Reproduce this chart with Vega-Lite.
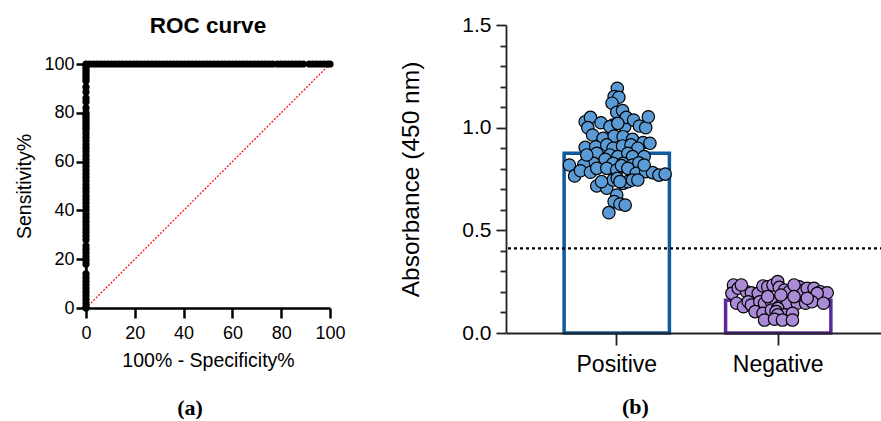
{
  "$schema": "https://vega.github.io/schema/vega-lite/v6.json",
  "padding": {"left": 14, "top": 14, "right": 0, "bottom": 0},
  "spacing": 52,
  "config": {
    "font": "Liberation Sans",
    "view": {"stroke": null},
    "axis": {"grid": false, "labelColor": "#000", "titleColor": "#000", "titleFontWeight": "normal", "domainColor": "#000", "tickColor": "#000"},
    "title": {"color": "#000"}
  },
  "datasets": {
    "head": [{"t": "ROC curve"}],
    "diag": [{"x": 0, "y": 0}, {"x": 100, "y": 100}],
    "roc": [
      {"x":0,"y":0},{"x":0,"y":0.5},{"x":0,"y":2},{"x":0,"y":3.5},{"x":0,"y":5},{"x":0,"y":6.5},{"x":0,"y":8},{"x":0,"y":9.5},{"x":0,"y":11},{"x":0,"y":12.5},{"x":0,"y":14},
      {"x":0,"y":18},{"x":0,"y":19.5},{"x":0,"y":21},{"x":0,"y":22.5},{"x":0,"y":24},{"x":0,"y":25.5},
      {"x":0,"y":28},{"x":0,"y":29.5},{"x":0,"y":31},{"x":0,"y":32.5},{"x":0,"y":34},{"x":0,"y":35.5},{"x":0,"y":37},{"x":0,"y":38.5},{"x":0,"y":40},{"x":0,"y":41.5},{"x":0,"y":43},{"x":0,"y":44.5},{"x":0,"y":46},{"x":0,"y":47.5},{"x":0,"y":49},{"x":0,"y":50.5},{"x":0,"y":52},{"x":0,"y":53.5},{"x":0,"y":55},{"x":0,"y":56.5},{"x":0,"y":58},{"x":0,"y":59.5},{"x":0,"y":61},{"x":0,"y":62.5},{"x":0,"y":64},{"x":0,"y":65.5},{"x":0,"y":67},{"x":0,"y":68.5},{"x":0,"y":70},{"x":0,"y":71.5},{"x":0,"y":73},{"x":0,"y":74},{"x":0,"y":75},{"x":0,"y":76},{"x":0,"y":77},{"x":0,"y":78},{"x":0,"y":79},{"x":0,"y":80},
      {"x":0,"y":82},{"x":0,"y":84.5},{"x":0,"y":86},{"x":0,"y":88.5},{"x":0,"y":90.5},{"x":0,"y":93},{"x":0,"y":94},{"x":0,"y":95},{"x":0,"y":96},{"x":0,"y":97},{"x":0,"y":98},{"x":0,"y":99},{"x":0,"y":100},
      {"x":1.5,"y":100},{"x":3,"y":100},{"x":4.5,"y":100},{"x":6,"y":100},{"x":7.5,"y":100},{"x":9,"y":100},{"x":10.5,"y":100},{"x":12,"y":100},{"x":13.5,"y":100},{"x":15,"y":100},{"x":16.5,"y":100},{"x":18,"y":100},{"x":19.5,"y":100},{"x":21,"y":100},{"x":22.5,"y":100},{"x":24,"y":100},{"x":25.5,"y":100},{"x":27,"y":100},{"x":28.5,"y":100},{"x":30,"y":100},{"x":31.5,"y":100},{"x":33,"y":100},{"x":34.5,"y":100},{"x":36,"y":100},{"x":37.5,"y":100},{"x":39,"y":100},{"x":40.5,"y":100},{"x":42,"y":100},{"x":43.5,"y":100},{"x":45,"y":100},{"x":46.5,"y":100},{"x":48,"y":100},{"x":49.5,"y":100},{"x":51,"y":100},{"x":52.5,"y":100},{"x":54,"y":100},{"x":55.5,"y":100},{"x":57,"y":100},{"x":58.5,"y":100},{"x":60,"y":100},{"x":61.5,"y":100},{"x":63,"y":100},{"x":64.5,"y":100},{"x":66,"y":100},{"x":67.5,"y":100},{"x":69,"y":100},{"x":70.5,"y":100},{"x":72,"y":100},{"x":73.5,"y":100},{"x":75,"y":100},{"x":76.5,"y":100},
      {"x":78.5,"y":100},{"x":80,"y":100},{"x":81.5,"y":100},{"x":83,"y":100},{"x":84.5,"y":100},{"x":86,"y":100},{"x":87.5,"y":100},{"x":89,"y":100},
      {"x":91.5,"y":100},{"x":93,"y":100},{"x":94.5,"y":100},{"x":96,"y":100},{"x":97.5,"y":100},{"x":99,"y":100},{"x":100,"y":100}
    ],
    "bars": [{"group": "Positive", "mean": 0.875}, {"group": "Negative", "mean": 0.16}],
    "cut": [{"cut": 0.412}],
    "abs": [
      {"group":"Positive","v":1.192,"j":0.01},{"group":"Positive","v":1.151,"j":-0.05},{"group":"Positive","v":1.148,"j":0.04},{"group":"Positive","v":1.119,"j":-0.09},{"group":"Positive","v":1.075,"j":0.0},{"group":"Positive","v":1.083,"j":0.11},
      {"group":"Positive","v":1.029,"j":-0.6},{"group":"Positive","v":1.05,"j":-0.5},{"group":"Positive","v":1.024,"j":-0.3},{"group":"Positive","v":1.013,"j":-0.07},{"group":"Positive","v":1.005,"j":0.15},{"group":"Positive","v":1.05,"j":0.18},{"group":"Positive","v":1.037,"j":0.32},{"group":"Positive","v":1.008,"j":0.43},{"group":"Positive","v":1.0,"j":0.55},{"group":"Positive","v":1.053,"j":0.6},{"group":"Positive","v":1.0,"j":-0.55},{"group":"Positive","v":1.005,"j":-0.13},{"group":"Positive","v":1.021,"j":0.02},
      {"group":"Positive","v":0.964,"j":-0.46},{"group":"Positive","v":0.948,"j":-0.26},{"group":"Positive","v":0.959,"j":-0.05},{"group":"Positive","v":0.956,"j":0.12},{"group":"Positive","v":0.943,"j":0.3},{"group":"Positive","v":0.927,"j":0.5},{"group":"Positive","v":0.924,"j":0.63},{"group":"Positive","v":0.904,"j":-0.6},{"group":"Positive","v":0.907,"j":-0.4},{"group":"Positive","v":0.916,"j":-0.19},{"group":"Positive","v":0.9,"j":-0.07},{"group":"Positive","v":0.911,"j":0.11},{"group":"Positive","v":0.916,"j":0.27},{"group":"Positive","v":0.9,"j":0.4},
      {"group":"Positive","v":0.859,"j":-0.54},{"group":"Positive","v":0.875,"j":-0.38},{"group":"Positive","v":0.867,"j":-0.13},{"group":"Positive","v":0.859,"j":0.02},{"group":"Positive","v":0.875,"j":0.21},{"group":"Positive","v":0.859,"j":0.3},{"group":"Positive","v":0.859,"j":0.52},{"group":"Positive","v":0.826,"j":-0.44},{"group":"Positive","v":0.846,"j":-0.22},{"group":"Positive","v":0.826,"j":-0.07},{"group":"Positive","v":0.826,"j":0.12},{"group":"Positive","v":0.818,"j":0.3},{"group":"Positive","v":0.829,"j":0.42},{"group":"Positive","v":0.818,"j":-0.63},{"group":"Positive","v":0.867,"j":-0.57},
      {"group":"Positive","v":0.818,"j":-0.9},{"group":"Positive","v":0.765,"j":-0.8},{"group":"Positive","v":0.79,"j":-0.69},{"group":"Positive","v":0.783,"j":-0.5},{"group":"Positive","v":0.802,"j":-0.38},{"group":"Positive","v":0.802,"j":-0.19},{"group":"Positive","v":0.794,"j":0.0},{"group":"Positive","v":0.815,"j":0.09},{"group":"Positive","v":0.802,"j":0.21},{"group":"Positive","v":0.778,"j":0.37},{"group":"Positive","v":0.786,"j":0.55},{"group":"Positive","v":0.781,"j":0.68},{"group":"Positive","v":0.769,"j":0.8},{"group":"Positive","v":0.774,"j":0.92},{"group":"Positive","v":0.818,"j":0.52},
      {"group":"Positive","v":0.716,"j":-0.38},{"group":"Positive","v":0.705,"j":-0.19},{"group":"Positive","v":0.745,"j":-0.07},{"group":"Positive","v":0.753,"j":0.01},{"group":"Positive","v":0.729,"j":0.12},{"group":"Positive","v":0.737,"j":0.21},{"group":"Positive","v":0.745,"j":0.3},{"group":"Positive","v":0.745,"j":0.4},{"group":"Positive","v":0.737,"j":-0.29},{"group":"Positive","v":0.737,"j":0.06},
      {"group":"Positive","v":0.672,"j":0.0},{"group":"Positive","v":0.64,"j":-0.05},{"group":"Positive","v":0.628,"j":0.06},{"group":"Positive","v":0.623,"j":0.16},{"group":"Positive","v":0.586,"j":-0.15},
      {"group":"Negative","v":0.234,"j":-0.85},{"group":"Negative","v":0.193,"j":-0.88},{"group":"Negative","v":0.218,"j":-0.76},{"group":"Negative","v":0.201,"j":-0.6},{"group":"Negative","v":0.196,"j":-0.51},{"group":"Negative","v":0.193,"j":-0.38},{"group":"Negative","v":0.229,"j":-0.29},{"group":"Negative","v":0.225,"j":-0.2},{"group":"Negative","v":0.234,"j":-0.1},{"group":"Negative","v":0.25,"j":-0.01},{"group":"Negative","v":0.222,"j":0.02},{"group":"Negative","v":0.209,"j":0.12},{"group":"Negative","v":0.201,"j":0.21},{"group":"Negative","v":0.225,"j":0.4},{"group":"Negative","v":0.206,"j":0.46},{"group":"Negative","v":0.218,"j":0.55},{"group":"Negative","v":0.218,"j":0.68},{"group":"Negative","v":0.201,"j":0.8},{"group":"Negative","v":0.196,"j":0.93},{"group":"Negative","v":0.193,"j":0.74},{"group":"Negative","v":0.234,"j":0.3},{"group":"Negative","v":0.234,"j":-0.7},
      {"group":"Negative","v":0.145,"j":-0.79},{"group":"Negative","v":0.128,"j":-0.66},{"group":"Negative","v":0.152,"j":-0.57},{"group":"Negative","v":0.136,"j":-0.51},{"group":"Negative","v":0.152,"j":-0.35},{"group":"Negative","v":0.145,"j":-0.26},{"group":"Negative","v":0.152,"j":-0.13},{"group":"Negative","v":0.128,"j":0.02},{"group":"Negative","v":0.145,"j":0.18},{"group":"Negative","v":0.145,"j":0.36},{"group":"Negative","v":0.145,"j":0.52},{"group":"Negative","v":0.152,"j":0.64},{"group":"Negative","v":0.145,"j":0.86},{"group":"Negative","v":0.177,"j":0.3},{"group":"Negative","v":0.177,"j":-0.2},{"group":"Negative","v":0.185,"j":0.05},{"group":"Negative","v":0.169,"j":0.55},
      {"group":"Negative","v":0.104,"j":-0.44},{"group":"Negative","v":0.096,"j":-0.29},{"group":"Negative","v":0.112,"j":-0.13},{"group":"Negative","v":0.12,"j":-0.01},{"group":"Negative","v":0.104,"j":-0.04},{"group":"Negative","v":0.088,"j":0.12},{"group":"Negative","v":0.096,"j":0.27},{"group":"Negative","v":0.088,"j":-0.01},
      {"group":"Negative","v":0.063,"j":-0.26},{"group":"Negative","v":0.067,"j":-0.07},{"group":"Negative","v":0.063,"j":0.08},{"group":"Negative","v":0.063,"j":0.27}
    ]
  },
  "hconcat": [
    {
      "title": {"text": "(a)", "orient": "bottom", "anchor": "middle", "font": "Liberation Serif", "fontSize": 22, "fontWeight": "bold", "offset": 28, "dx": 10},
      "spacing": 17,
      "vconcat": [
        {
          "width": 244,
          "height": 2,
          "data": {"name": "head"},
          "mark": {"type": "text", "fontSize": 22.5, "fontWeight": "bold", "font": "Liberation Sans", "color": "#000"},
          "encoding": {"text": {"field": "t", "type": "nominal"}}
        },
        {
          "width": 244,
          "height": 244,
          "layer": [
            {
              "data": {"name": "diag"},
              "mark": {"type": "line", "stroke": "#ff0000", "color": "#ff0000", "strokeWidth": 1.2, "strokeDash": [2, 1.5]},
              "encoding": {
                "x": {"field": "x", "type": "quantitative", "scale": {"domain": [0, 100], "nice": false},
                  "axis": {"title": "100% - Specificity%", "values": [0, 20, 40, 60, 80, 100], "tickSize": 10, "tickWidth": 2.5, "domainWidth": 2.5, "labelFontSize": 18, "titleFontSize": 19.5, "labelPadding": 6, "titlePadding": 9, "labelFlush": false}},
                "y": {"field": "y", "type": "quantitative", "scale": {"domain": [0, 100], "nice": false},
                  "axis": {"title": "Sensitivity%", "values": [0, 20, 40, 60, 80, 100], "tickSize": 10, "tickWidth": 2.5, "domainWidth": 2.5, "labelFontSize": 18, "titleFontSize": 19.5, "labelPadding": 2, "titlePadding": 9, "labelFlush": false}}
              }
            },
            {
              "data": {"name": "roc"},
              "mark": {"type": "line", "color": "#000", "strokeWidth": 2},
              "encoding": {
                "x": {"field": "x", "type": "quantitative"},
                "y": {"field": "y", "type": "quantitative"},
                "order": [{"field": "x", "type": "quantitative"}, {"field": "y", "type": "quantitative"}]
              }
            },
            {
              "data": {"name": "roc"},
              "mark": {"type": "circle", "color": "#000", "size": 52, "opacity": 1},
              "encoding": {
                "x": {"field": "x", "type": "quantitative"},
                "y": {"field": "y", "type": "quantitative"}
              }
            }
          ]
        }
      ]
    },
    {
      "title": {"text": "(b)", "orient": "bottom", "anchor": "middle", "font": "Liberation Serif", "fontSize": 22, "fontWeight": "bold", "offset": 21, "dx": -9},
      "vconcat": [
        {
          "width": 383,
          "height": 308,
          "resolve": {"scale": {"xOffset": "independent"}, "axis": {"y": "independent"}},
          "layer": [
            {
              "data": {"name": "bars"},
              "mark": {"type": "bar", "filled": false, "strokeWidth": 3.5},
              "encoding": {
                "x": {"field": "group", "type": "nominal", "sort": ["Positive", "Negative"], "scale": {"paddingInner": 0.348, "paddingOuter": 0.36},
                  "axis": {"title": null, "labelAngle": 0, "labelFontSize": 23, "tickSize": 12, "tickWidth": 1.8, "domainWidth": 2, "domainColor": "#222", "tickColor": "#222", "labelPadding": 8, "zindex": 1}},
                "y": {"field": "mean", "type": "quantitative", "scale": {"domain": [0, 1.5], "nice": false},
                  "axis": {"orient": "left", "title": "Absorbance (450 nm)", "titleFontSize": 24.5, "titlePadding": 38, "labelFontSize": 21, "labelPadding": 5, "labelOverlap": false, "format": ".1f",
                    "values": [0, 0.5, 1.0, 1.5], "tickSize": 10,
                    "tickWidth": 1.8, "domainWidth": 1.8, "domainColor": "#222", "tickColor": "#222", "zindex": 1}},
                "stroke": {"field": "group", "type": "nominal", "scale": {"domain": ["Positive", "Negative"], "range": ["#0E5A9C", "#5A2A9C"]}, "legend": null}
              }
            },
            {
              "data": {"name": "cut"},
              "mark": {"type": "rule", "strokeDash": [3, 3], "strokeWidth": 2.2, "color": "#000"},
              "encoding": {"y": {"field": "cut", "type": "quantitative",
                "axis": {"orient": "left", "title": null, "labels": false, "domain": false, "tickSize": 6, "tickWidth": 1.8, "tickColor": "#222",
                  "values": [0.1, 0.2, 0.3, 0.4, 0.6, 0.7, 0.8, 0.9, 1.1, 1.2, 1.3, 1.4]}}}
            },
            {
              "data": {"name": "abs"},
              "mark": {"type": "circle", "size": 154, "stroke": "#000", "strokeWidth": 1.2, "opacity": 1},
              "encoding": {
                "x": {"field": "group", "type": "nominal", "sort": ["Positive", "Negative"]},
                "xOffset": {"field": "j", "type": "quantitative", "scale": {"domain": [-1, 1]}},
                "y": {"field": "v", "type": "quantitative", "axis": null},
                "fill": {"field": "group", "type": "nominal", "scale": {"domain": ["Positive", "Negative"], "range": ["#5B9BD5", "#A98BD6"]}, "legend": null}
              }
            }
          ]
        }
      ]
    }
  ]
}
